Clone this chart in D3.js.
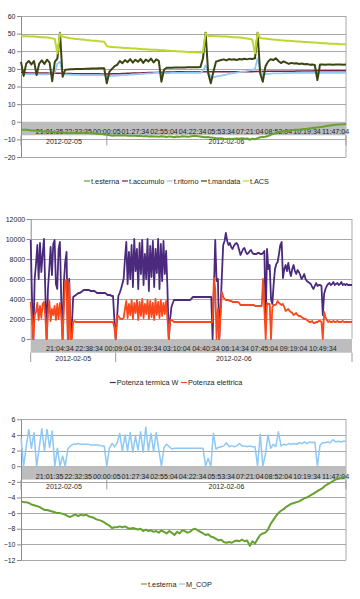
<!DOCTYPE html>
<html><head><meta charset="utf-8">
<script src="https://cdn.jsdelivr.net/npm/d3@7"></script>
<style>
body{margin:0;background:#fff}
svg{display:block}
text{font-family:"Liberation Sans",Arial,sans-serif;fill:#1e1e1e}
</style>
</head><body>
<svg id="c" width="360" height="599"></svg>
<script>
// ---------- DATA ----------
const timeLabelsA = ["21:01:35","22:32:35","00:00:05","01:27:34","02:55:04","04:22:34","05:53:34","07:21:04","08:52:04","10:19:34","11:47:04"];
const timeLabelsB = ["21:04:34","22:38:34","00:09:04","01:39:34","03:10:04","04:40:34","06:14:34","07:45:04","09:19:04","10:49:34"];
const dayLabels = ["2012-02-05","2012-02-06"];
const dayStartsA = [0, 33];
const dayStartsB = [0, 64];
const ticksT = [-20,-10,0,10,20,30,40,50,60];
const ticksP = [0,2000,4000,6000,8000,10000,12000];
const ticksC = [-12,-10,-8,-6,-4,-2,0,2,4,6];

const tEsterna = [-4.5,-4.6,-4.6,-4.7,-4.9,-5.0,-5.1,-5.2,-5.4,-5.6,
-5.6,-5.7,-5.8,-5.9,-6.0,-6.0,-6.1,-6.2,-6.4,-6.5,
-6.3,-6.2,-6.4,-6.2,-6.3,-6.2,-6.4,-6.5,-6.6,-6.8,
-6.9,-7.0,-7.2,-7.4,-7.6,-7.9,-7.8,-7.8,-7.7,-7.8,
-7.7,-7.9,-8.0,-7.9,-8.0,-8.1,-8.0,-8.3,-8.1,-8.3,
-8.2,-8.4,-8.3,-8.5,-8.2,-8.4,-8.6,-8.3,-8.5,-8.8,
-8.4,-8.6,-8.2,-8.3,-8.5,-8.4,-8.1,-8.0,-8.2,-8.4,
-8.6,-8.8,-8.7,-9.0,-9.1,-9.3,-9.5,-9.4,-9.7,-9.8,
-9.7,-9.8,-9.6,-9.5,-9.6,-9.4,-9.6,-9.5,-10.2,-9.6,
-9.9,-9.3,-8.8,-8.6,-8.5,-8.1,-7.4,-6.9,-6.4,-6.0,
-5.7,-5.5,-5.2,-5.0,-4.8,-4.7,-4.6,-4.5,-4.3,-4.1,
-4.0,-3.8,-3.6,-3.4,-3.2,-3.0,-2.8,-2.5,-2.3,-2.1,
-1.9,-1.7,-1.6,-1.5,-1.4,-1.3];

const tAccumulo = [27.8,27.8,27.8,27.7,27.7,27.7,27.7,27.6,27.6,27.6,27.6,27.5,27.5,27.5,27.5,27.5,
27.4,27.4,27.4,27.4,27.3,27.3,27.3,27.3,27.3,27.2,27.2,27.2,27.2,27.2,27.2,27.1,27.1,
27.1,27.1,27.2,27.2,27.3,27.3,27.4,27.4,27.5,27.5,27.6,27.6,27.7,27.7,27.8,27.8,27.9,27.9,28.0,28.0,28.1,
28.1,28.1,28.2,28.2,28.2,28.2,28.3,28.3,28.3,28.3,28.3,28.4,28.4,28.4,28.4,28.4,
28.4,28.4,28.3,28.3,28.3,28.3,28.3,28.3,28.3,28.3,28.3,28.3,28.3,28.3,28.4,28.4,28.4,28.4,28.4,28.4,
28.5,28.5,28.5,28.5,28.5,28.6,28.6,28.6,28.6,28.6,28.7,28.7,28.7,28.7,28.7,28.7,28.8,28.8,28.8,28.8,
28.8,28.8,28.8,28.9,28.9,28.9,28.9,28.9,28.9,28.9,29.0,29.0,29.0,29.0,29.0,29.0];

const tRitorno = [27.1,27.1,27.0,27.0,27.0,27.0,27.0,26.9,26.9,26.9,26.9,27.0,27.0,
28.0,33.0,34.0,27.5,
26.8,26.7,26.7,26.6,26.6,26.6,26.5,26.5,26.5,26.5,26.5,26.4,26.4,26.4,26.4,26.4,
25.8,25.9,
26.0,26.1,26.2,26.3,26.4,26.5,26.6,26.7,26.8,26.9,27.0,27.1,27.2,27.3,27.4,27.5,27.6,27.7,27.8,
27.2,
27.6,27.6,27.6,27.7,27.7,27.7,27.7,27.7,27.8,27.8,27.8,27.8,27.8,27.8,27.8,
29.0,32.0,28.0,25.5,25.2,
25.6,25.9,26.2,26.5,26.8,27.1,27.4,27.6,27.9,28.1,28.4,28.6,28.9,29.1,29.4,
30.0,36.0,29.0,26.5,27.0,
27.2,27.3,27.4,27.4,27.5,27.5,27.6,27.6,27.6,27.7,27.7,27.7,27.7,27.8,27.8,27.8,27.8,27.8,27.8,27.8,
27.8,27.8,27.8,27.8,27.8,27.8,27.8,27.8,27.8,27.8,27.8];

const tMandata = [34.0,26.0,33.0,34.5,32.5,34.5,26.5,33.0,34.8,32.8,35.2,33.5,23.0,34.0,36.0,50.5,25.5,29.5,
29.6,29.8,29.8,29.9,29.9,30.0,30.0,30.1,30.1,30.2,30.2,30.2,30.3,30.3,30.3,
21.8,28.4,30.0,31.5,32.3,
34.5,33.2,35.0,33.8,35.5,33.5,35.2,34.0,35.6,33.4,35.3,34.2,35.8,33.6,35.4,34.5,
22.7,29.5,
30.6,30.7,30.7,30.8,30.8,30.8,30.8,30.8,30.9,30.9,30.9,30.9,30.9,31.0,
36.0,50.5,27.5,21.8,28.4,34.1,
34.6,35.0,35.4,34.8,35.6,35.2,35.5,35.0,35.6,35.3,35.7,35.4,35.8,35.6,
36.0,50.5,27.5,22.7,31.3,34.1,35.5,35.0,36.0,34.5,33.3,34.2,33.5,32.8,33.4,33.0,33.2,32.8,33.0,32.6,32.8,32.4,32.5,32.2,
23.7,32.5,
32.5,32.4,32.5,32.5,32.4,32.5,32.5,32.5,32.4,32.5];

const tACS = [48.6,48.5,48.5,48.4,48.3,48.3,48.2,48.1,48.0,47.9,47.8,47.6,47.3,47.0,
38.8,50.2,48.3,
48.0,47.7,47.4,47.2,47.0,46.9,46.7,46.6,46.4,46.3,46.1,46.0,45.9,45.7,45.6,45.4,
43.0,
42.5,42.4,42.3,42.2,42.1,42.0,41.9,41.8,41.7,41.6,41.5,41.4,41.3,41.2,41.1,41.0,40.9,40.9,40.8,40.7,
40.6,40.5,40.4,40.3,40.2,40.1,40.0,39.9,39.8,39.7,39.6,39.5,39.4,39.4,39.3,39.3,
39.5,50.2,48.7,
48.6,48.6,48.5,48.5,48.4,48.4,48.3,48.2,48.1,48.0,47.9,47.8,47.6,47.4,47.2,47.0,
46.6,38.8,50.5,47.5,
47.3,47.2,47.0,46.8,46.6,46.5,46.4,46.2,46.1,46.0,45.9,45.8,45.7,45.6,45.5,45.4,45.3,45.2,45.1,45.0,
44.9,44.8,44.7,44.6,44.5,44.4,44.3,44.3,44.2,44.1,44.0,44.0,43.9];

const potTermica = [
9900,4000,0,6000,7500,9400,6000,9600,6700,8500,10000,4800,0,5000,7000,9200,6400,9500,9900,5500,5000,9000,9700,4000,0,5700,7700,8700,0,6000,0,1400,4200,
4300,4400,4500,4600,4600,4700,4800,4900,4900,4900,4900,4900,4800,4800,4800,4800,4700,4600,4600,4600,4600,4600,4600,4600,4500,4400,4400,4400,4300,4300,2000,0,
2000,4300,4600,5000,5500,6000,8000,
9700,5500,8700,6000,9400,5200,10000,6800,9000,5000,9600,6500,9900,5400,8500,6000,10000,4800,9300,6200,9800,5200,9000,6600,10000,5000,9500,5800,9800,6500,8800,
5000,0,
2000,3200,3600,3900,3900,3900,3900,3900,3900,3900,3900,3900,3900,3900,3900,3900,4000,4200,4200,4200,4200,4200,4200,4200,4200,4200,4200,4200,4200,4200,
4200,4200,0,5000,9900,5800,6000,0,3000,6400,9400,9800,10600,9800,
9400,9600,9200,9000,9300,9500,9600,9400,8900,8400,8700,9000,9100,8700,8500,8600,8800,8900,8600,8500,8500,8500,8600,8600,8500,8500,
8600,8800,1500,9000,7000,7400,4000,3500,5500,7000,7500,7700,8500,9400,9700,6100,7000,7400,6800,7600,
6800,6300,7000,7400,6800,6500,6900,6700,6400,6000,6200,6500,6000,5800,5700,5600,5500,5200,5000,5300,
5600,5300,5400,5400,5300,2400,4500,5000,5300,5500,5600,5400,5500,5700,5400,5500,5600,5400,5500,5700,
5400,5500,5400,5500,5400,5400,5400,5400];

const potElettrica = [
3700,2000,0,2400,2700,3600,1900,3300,2100,3500,3700,2200,0,2500,3800,1800,3000,2400,3300,1900,3500,2000,3600,2300,0,3000,5800,5900,0,5600,0,0,1700,
1800,1700,1700,1700,1700,1700,1700,1700,1700,1700,1700,1700,1700,1700,1700,1700,1700,1700,1700,1700,1700,1700,1700,1700,1700,1700,1700,1700,1700,1700,1200,0,
2300,2300,2100,2000,2000,2100,3000,
3800,2100,3500,2400,3900,2000,3600,2600,3900,1900,3700,2300,4000,2100,3500,2500,3900,2000,3800,2200,3600,1900,4000,2400,3700,2100,3900,2300,3600,2500,3800,
2000,0,
1900,1900,1800,1700,1700,1700,1700,1700,1700,1700,1700,1700,1700,1700,1700,1700,1700,1700,1700,1700,1700,1700,1700,1700,1700,1700,1700,1700,1700,1700,
1700,1700,1700,6100,5000,0,3000,0,2500,4700,4200,4000,3900,3900,
3900,3800,3800,3700,3700,3700,3700,3700,3600,3400,3400,3400,3400,3400,3400,3400,3400,3400,3400,3400,3300,3300,3300,3300,3300,3300,
6000,3000,0,3600,3500,3500,0,3200,3400,3400,3500,3800,3600,3500,3400,3500,3200,2800,2900,3000,
2800,2700,2600,2400,2500,2600,2400,2300,2300,2200,2100,2000,2000,1900,1800,1700,1700,1800,1600,1600,
1700,1700,1800,1800,1700,0,2700,2200,1900,1700,1800,1700,1700,1800,1700,1700,1800,1700,1700,1700,
1800,1700,1700,1700,1700,1700,1700,1700];

const mCOP = [3.6,0,2.5,4.7,2.3,4.3,0,2.3,4.8,2.0,4.7,2.4,4.5,0,2.3,0,1.3,0,2.2,2.6,2.8,
2.8,2.9,2.8,2.8,2.8,2.8,2.7,2.7,2.7,2.7,2.6,2.6,
0,2.3,2.9,2.5,3.0,
4.2,1.9,4.0,2.0,4.3,1.8,3.8,2.1,4.4,1.8,5.0,2.0,4.2,1.9,4.3,2.1,
0,2.4,2.8,2.5,2.2,
2.3,2.3,2.3,2.3,2.3,2.3,2.3,2.3,2.3,2.3,2.3,2.3,
0,1.0,0,4.2,2.2,2.4,
2.5,2.6,3.0,2.5,2.6,2.5,2.6,2.9,2.6,2.6,2.5,2.6,2.5,2.5,
0,4.1,0,1.5,4.0,2.3,2.8,2.5,4.4,2.6,
2.8,2.7,2.9,2.8,2.9,2.8,3.0,2.9,3.1,2.9,3.1,3.0,3.1,
0,2.7,
3.0,3.0,3.1,3.0,3.4,3.1,3.2,3.1,3.2,3.2];

// ---------- DRAW ----------
const svg = d3.select('#c');
const FONT = '"Liberation Sans",Arial,sans-serif';

function drawChart(o) {
  const n = o.series[0].values.length;
  const g = svg.append('g');
  const x = d3.scalePoint().domain(d3.range(n)).range([o.left, o.right]);
  const y = d3.scaleLinear().domain(o.yDomain).range([o.bottom, o.top]);

  g.append('g').selectAll('line').data(o.yTicks).join('line')
    .attr('x1', o.left).attr('x2', o.right)
    .attr('y1', d => Math.round(y(d)) + 0.5).attr('y2', d => Math.round(y(d)) + 0.5)
    .attr('stroke', '#a9a9a9').attr('stroke-width', 1);

  g.append('line').attr('x1', o.right).attr('x2', o.right)
    .attr('y1', o.top).attr('y2', o.bottom).attr('stroke', '#a9a9a9');

  g.append('rect').attr('x', o.left).attr('y', y(0))
    .attr('width', o.right - o.left).attr('height', o.bandH).attr('fill', '#bdbdbd');

  const ax = g.append('g').attr('transform', `translate(${o.left},0)`)
    .call(d3.axisLeft(y).tickValues(o.yTicks).tickFormat(d3.format('d'))
      .tickSizeInner(4).tickSizeOuter(0).tickPadding(1.5));
  ax.attr('font-size', 7).attr('font-family', FONT);
  ax.select('.domain').attr('stroke', '#8a8a8a');
  ax.selectAll('.tick line').attr('stroke', '#8a8a8a');
  ax.selectAll('.tick text').attr('fill', '#1e1e1e');

  g.append('g').selectAll('text').data(o.timeLabels).join('text')
    .attr('x', (d, k) => x((k + 1) * o.labelStep)).attr('y', o.timeY)
    .attr('text-anchor', 'middle').attr('font-size', 7.1).text(d => d);

  const bounds = o.dayStarts.concat([n - 1]);
  g.append('g').selectAll('line').data(bounds).join('line')
    .attr('x1', d => x(d)).attr('x2', d => x(d))
    .attr('y1', o.sepTop).attr('y2', o.sepBottom)
    .attr('stroke', '#9a9a9a');
  g.append('g').selectAll('text').data(dayLabels).join('text')
    .attr('x', (d, k) => (x(bounds[k]) + x(bounds[k + 1])) / 2)
    .attr('y', o.dayY).attr('text-anchor', 'middle').attr('font-size', 7).text(d => d);

  const line = d3.line().x((d, i) => x(i)).y(d => y(d));
  o.series.forEach(s => {
    g.append('path').datum(s.values).attr('d', line)
      .attr('fill', 'none').attr('stroke', s.color).attr('stroke-width', s.w)
      .attr('stroke-linejoin', 'round');
  });

  const lg = g.append('g');
  const items = o.series.map(s => {
    const t = lg.append('text').attr('font-size', 7.3).attr('y', o.legendY + 2.6).text(s.name);
    return {s, t, w: t.node().getComputedTextLength()};
  });
  const lineLen = 6, gap = 1, spacing = 2.5;
  const total = d3.sum(items, d => lineLen + gap + d.w) + spacing * (items.length - 1);
  let cx = o.legendCx - total / 2;
  items.forEach(it => {
    lg.append('line').attr('x1', cx).attr('x2', cx + lineLen)
      .attr('y1', o.legendY).attr('y2', o.legendY)
      .attr('stroke', it.s.color).attr('stroke-width', 1.2);
    it.t.attr('x', cx + lineLen + gap);
    cx += lineLen + gap + it.w + spacing;
  });
}

const C_EST = '#67a12f', C_ACC = '#7a1f4a', C_RIT = '#93c9f2', C_MAN = '#3a4612', C_ACS = '#bfd631';

drawChart({
  left: 21, right: 346, top: 16, bottom: 157, yDomain: [-20, 60], yTicks: ticksT,
  bandH: 13.5, timeLabels: timeLabelsA, labelStep: 11, timeY: 133.6,
  dayStarts: dayStartsA, dayY: 143.6, sepTop: 135.3, sepBottom: 145.5,
  legendY: 181, legendCx: 176.5,
  series: [
    {name: 't.esterna', values: tEsterna, color: C_EST, w: 2},
    {name: 't.accumulo', values: tAccumulo, color: C_ACC, w: 1.5},
    {name: 't.ritorno', values: tRitorno, color: C_RIT, w: 1.8},
    {name: 't.mandata', values: tMandata, color: C_MAN, w: 2},
    {name: 't.ACS', values: tACS, color: C_ACS, w: 2}
  ]
});

drawChart({
  left: 30.7, right: 352, top: 219, bottom: 339, yDomain: [0, 12000], yTicks: ticksP,
  bandH: 13.7, timeLabels: timeLabelsB, labelStep: 22, timeY: 350.9,
  dayStarts: dayStartsB, dayY: 360.9, sepTop: 352.7, sepBottom: 362,
  legendY: 382.5, legendCx: 176,
  series: [
    {name: 'Potenza termica W', values: potTermica, color: '#4b2a7e', w: 1.8},
    {name: 'Potenza elettrica', values: potElettrica, color: '#f9481c', w: 1.8}
  ]
});

drawChart({
  left: 21, right: 346, top: 419.3, bottom: 560, yDomain: [-12, 6], yTicks: ticksC,
  bandH: 13.4, timeLabels: timeLabelsA, labelStep: 11, timeY: 478.6,
  dayStarts: dayStartsA, dayY: 489.2, sepTop: 479.7, sepBottom: 489.5,
  legendY: 584, legendCx: 176.5,
  series: [
    {name: 't.esterna', values: tEsterna, color: C_EST, w: 2},
    {name: 'M_COP', values: mCOP, color: '#8ec8f5', w: 1.5}
  ]
});
</script>
</body></html>
